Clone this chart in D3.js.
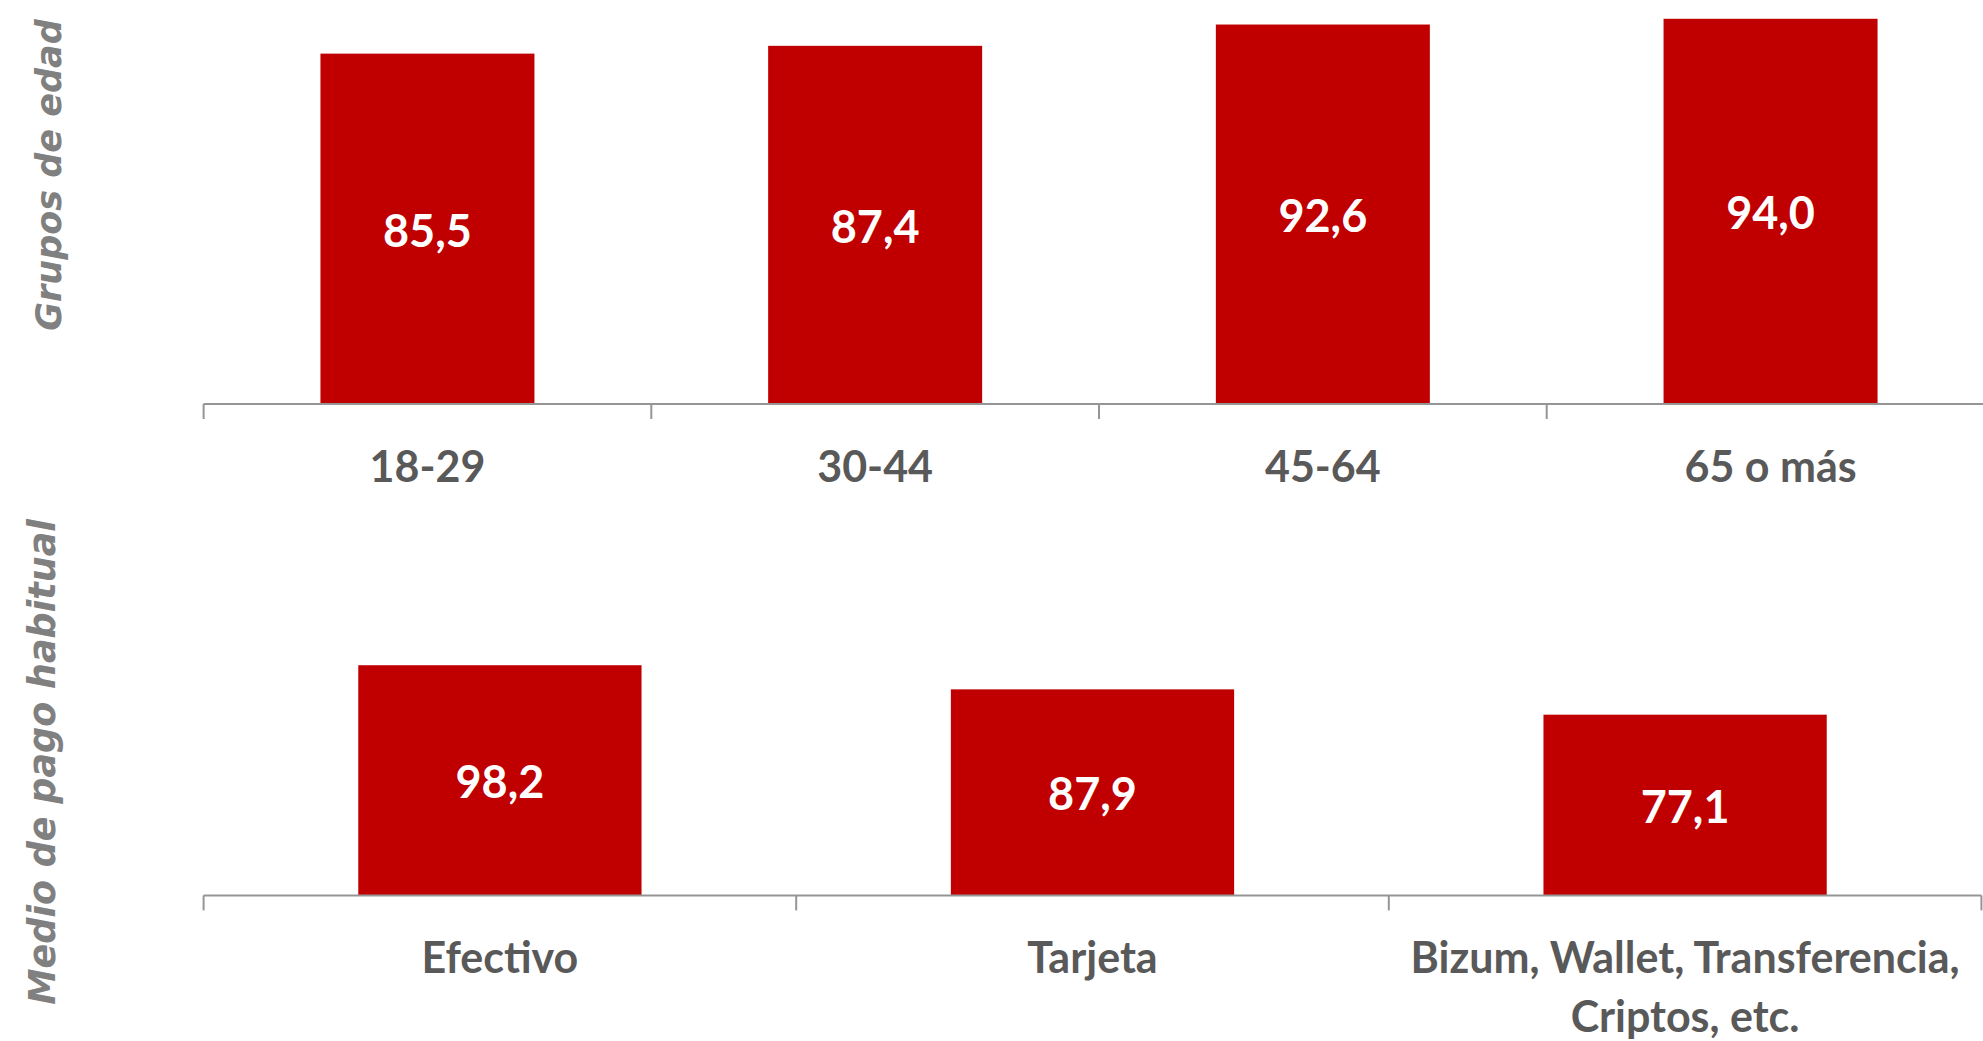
<!DOCTYPE html>
<html lang="es">
<head>
    <meta charset="UTF-8">
    <title>Grupos de edad / Medio de pago habitual</title>
    <script src="https://d3js.org/d3.v7.min.js"></script>
    <style>
        body { margin: 0; background: #fff; }
    </style>
</head>
<body>
<script>
    // data
    const ageGroups = ["18-29", "30-44", "45-64", "65 o más"]
    const ageValues = [85.5, 87.4, 92.6, 94.0]

    const payMethods = ["Efectivo", "Tarjeta", "Bizum"]
    const payLabels = [["Efectivo"], ["Tarjeta"], ["Bizum, Wallet, Transferencia,", "Criptos, etc."]]
    const payValues = [98.2, 87.9, 77.1]

    const titles = ["Grupos de edad", "Medio de pago habitual"]

    const width = 1983
    const height = 1041
    const red = "#c00000"
    const axisGray = "#959595"
    const labelGray = "#595959"
    const fmt = v => v.toFixed(1).replace(".", ",")

    const svg = d3.select("body")
        .append("svg")
        .attr("width", width)
        .attr("height", height)

    function drawPanel(cats, labels, values, opts) {
        const x = d3.scaleBand()
            .domain(cats)
            .range([opts.left, opts.left + opts.step * cats.length])
            .paddingInner(0.522)
            .paddingOuter(0.261)

        const y = d3.scaleLinear()
            .domain([0, 100])
            .range([opts.base, opts.base - 100 * opts.unit])

        const g = svg.append("g")

        g.selectAll("rect")
            .data(values)
            .enter()
            .append("rect")
            .attr("x", (d, i) => x(cats[i]))
            .attr("y", d => y(d))
            .attr("width", x.bandwidth())
            .attr("height", d => y(0) - y(d))
            .attr("fill", red)

        // axis line with ticks on the category boundaries
        const r = x.range()
        g.append("line")
            .attr("x1", r[0]).attr("x2", r[1])
            .attr("y1", y(0)).attr("y2", y(0))
            .attr("stroke", axisGray)
            .attr("stroke-width", 2)

        g.selectAll(".tick")
            .data(d3.range(cats.length + 1))
            .enter()
            .append("line")
            .attr("class", "tick")
            .attr("x1", i => r[0] + i * x.step())
            .attr("x2", i => r[0] + i * x.step())
            .attr("y1", y(0))
            .attr("y2", y(0) + 15)
            .attr("stroke", axisGray)
            .attr("stroke-width", 2)

        // value labels in the middle of each bar
        g.selectAll(".val")
            .data(values)
            .enter()
            .append("text")
            .attr("class", "val")
            .attr("x", (d, i) => x(cats[i]) + x.bandwidth() / 2)
            .attr("y", d => (y(d) + y(0)) / 2)
            .attr("dy", "0.4em")
            .attr("text-anchor", "middle")
            .attr("font-family", "Lato")
            .attr("font-weight", "bold")
            .attr("font-size", 45)
            .attr("fill", "#fff")
            .text(d => fmt(d))

        // category labels
        const cat = g.selectAll(".cat")
            .data(labels)
            .enter()
            .append("text")
            .attr("class", "cat")
            .attr("text-anchor", "middle")
            .attr("font-family", "Lato")
            .attr("font-weight", "bold")
            .attr("font-size", 43)
            .attr("fill", labelGray)

        cat.selectAll("tspan")
            .data((lines, i) => lines.map(l => ({ l, i })))
            .enter()
            .append("tspan")
            .attr("x", d => x(cats[d.i]) + x.bandwidth() / 2)
            .attr("y", (d, j) => y(0) + 78 + j * 59)
            .text(d => d.l)

        svg.append("text")
            .attr("transform", `translate(${opts.titleX}, ${opts.titleY}) rotate(-90)`)
            .attr("text-anchor", "middle")
            .attr("dy", "0.36em")
            .attr("font-family", "DejaVu Sans")
            .attr("font-weight", "bold")
            .attr("font-style", "italic")
            .attr("font-size", opts.titleSize)
            .attr("fill", "#808080")
            .text(opts.title)
    }

    drawPanel(ageGroups, ageGroups.map(d => [d]), ageValues, {
        left: 203.6, step: 447.7, base: 404, unit: 4.098,
        title: titles[0], titleX: 48, titleY: 175, titleSize: 35
    })

    drawPanel(payMethods, payLabels, payValues, {
        left: 203.6, step: 592.6, base: 895.4, unit: 2.344,
        title: titles[1], titleX: 42, titleY: 762, titleSize: 36.5
    })
</script>
</body>
</html>
